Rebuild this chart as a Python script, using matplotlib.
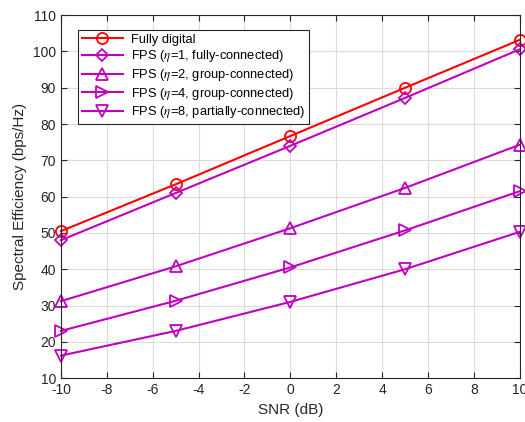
import matplotlib
matplotlib.use("Agg")
import matplotlib.pyplot as plt

plt.rcParams['font.family'] = ['Liberation Sans', 'DejaVu Sans']
plt.rcParams['mathtext.fontset'] = 'stix'
plt.rcParams['axes.unicode_minus'] = False

snr = [-10, -5, 0, 5, 10]
fully_digital = [50.5, 63.4, 76.7, 90.0, 103.2]
fps_eta1 = [48.0, 61.0, 74.0, 87.2, 100.6]
fps_eta2 = [31.2, 40.8, 51.3, 62.4, 74.3]
fps_eta4 = [23.0, 31.3, 40.5, 50.7, 61.5]
fps_eta8 = [16.2, 23.0, 31.0, 40.0, 50.3]

labels = ['Fully digital',
          r'FPS ($\eta$=1, fully-connected)',
          r'FPS ($\eta$=2, group-connected)',
          r'FPS ($\eta$=4, group-connected)',
          r'FPS ($\eta$=8, partially-connected)']

red = '#ff0000'
mag = '#c000c0'

fig = plt.figure(figsize=(5.25, 4.22), dpi=100)
ax = fig.add_axes([0.116, 0.104, 0.874, 0.86])

series = [(fully_digital, red, 'o'), (fps_eta1, mag, 'D'), (fps_eta2, mag, '^'),
          (fps_eta4, mag, '>'), (fps_eta8, mag, 'v')]
for (vals, col, mk), lab in zip(series, labels):
    ms = 6.5 if mk == 'D' else 8
    ax.plot(snr, vals, color=col, marker=mk, markersize=ms, markerfacecolor='none',
            markeredgewidth=1.3, linewidth=1.5, label=lab, clip_on=False)

ax.set_xlim(-10, 10)
ax.set_ylim(10, 110)
ax.set_xticks(range(-10, 11, 2))
ax.set_yticks(range(10, 111, 10))
ax.grid(True, color='#dcdcdc', linewidth=0.8)
ax.set_axisbelow(True)
ax.tick_params(direction='in', length=4, labelsize=10, colors='#262626', top=True, right=True,
               labeltop=False, labelright=False)
for s in ax.spines.values():
    s.set_color('#262626')
    s.set_linewidth(0.8)

ax.set_xlabel('SNR (dB)', fontsize=11, color='#262626')
ax.set_ylabel('Spectral Efficiency (bps/Hz)', fontsize=11, color='#262626')

leg = ax.legend(loc='upper left', bbox_to_anchor=(0.023, 0.977), fontsize=9.3, fancybox=False,
                framealpha=1, edgecolor='#262626', handlelength=3.2, borderpad=0.3,
                labelspacing=0.2, handletextpad=0.6)
leg.get_frame().set_linewidth(0.8)

fig.savefig('out.png', dpi=100)
